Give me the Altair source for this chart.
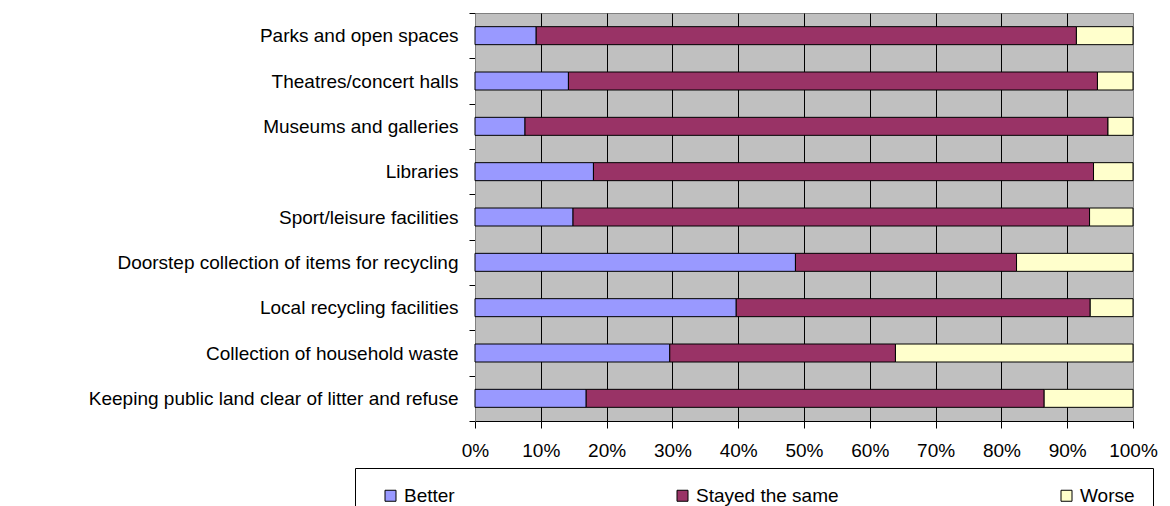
import altair as alt
import pandas as pd

categories = [
    "Parks and open spaces",
    "Theatres/concert halls",
    "Museums and galleries",
    "Libraries",
    "Sport/leisure facilities",
    "Doorstep collection of items for recycling",
    "Local recycling facilities",
    "Collection of household waste",
    "Keeping public land clear of litter and refuse",
]
series = ["Better", "Stayed the same", "Worse"]
better = [9.3, 14.2, 7.6, 18.0, 14.9, 48.7, 39.7, 29.6, 16.9]
stayed = [82.1, 80.4, 88.6, 76.0, 78.5, 33.6, 53.8, 34.3, 69.6]
worse = [8.6, 5.4, 3.8, 6.0, 6.6, 17.7, 6.5, 36.1, 13.5]
colors = ["#9999FF", "#993366", "#FFFFCC"]
x_ticks = [0, 0.1, 0.2, 0.3, 0.4, 0.5, 0.6, 0.7, 0.8, 0.9, 1.0]

rows = []
for i, c in enumerate(categories):
    for j, (s, vals) in enumerate(zip(series, [better, stayed, worse])):
        rows.append({"category": c, "series": s, "value": vals[i], "order": j})
df = pd.DataFrame(rows)

FONT = "Liberation Sans"
FS = 19

chart = alt.Chart(df).mark_bar(size=18, stroke="black", strokeWidth=1).encode(
    y=alt.Y(
        "category:N",
        sort=categories,
        scale=alt.Scale(paddingInner=0, paddingOuter=0),
        axis=alt.Axis(
            title=None, tickBand="extent", ticks=True, tickSize=6, tickColor="black",
            domainColor="#808080", labelFontSize=FS, labelFont=FONT, labelColor="black",
            labelPadding=11, labelLimit=700, grid=False,
        ),
    ),
    x=alt.X(
        "value:Q",
        stack="normalize",
        scale=alt.Scale(domain=[0, 1], nice=False),
        axis=alt.Axis(
            title=None, format=".0%", values=x_ticks, tickSize=7, tickColor="black",
            domainColor="black", grid=True,
            gridColor={"condition": {"test": "datum.value === 0 || datum.value === 1", "value": "#808080"}, "value": "black"},
            gridWidth=1, labelFontSize=FS, labelFont=FONT, labelColor="black", labelPadding=13,
            labelOverlap=False, labelFlush=False,
        ),
    ),
    color=alt.Color(
        "series:N",
        scale=alt.Scale(domain=series, range=colors),
        legend=alt.Legend(
            title=None, orient="none", legendX=-120, legendY=455, direction="horizontal",
            columns=3, symbolType="square", symbolSize=121, symbolStrokeColor="black",
            symbolStrokeWidth=1, symbolOpacity=1, labelFontSize=FS, labelFont=FONT,
            labelColor="black", labelOffset=4, strokeColor="black", padding=18,
            columnPadding=210, symbolOffset=8,
        ),
    ),
    order=alt.Order("order:Q"),
).properties(
    width=658,
    height=408,
    autosize=alt.AutoSizeParams(type="none"),
    padding={"left": 467, "top": 5, "right": 29, "bottom": 85},
).configure(
    font=FONT, background="white"
).configure_view(
    fill="#C0C0C0", stroke="#808080", strokeWidth=1
)

chart.save("out.html", embed_options={"renderer": "svg", "actions": False})
